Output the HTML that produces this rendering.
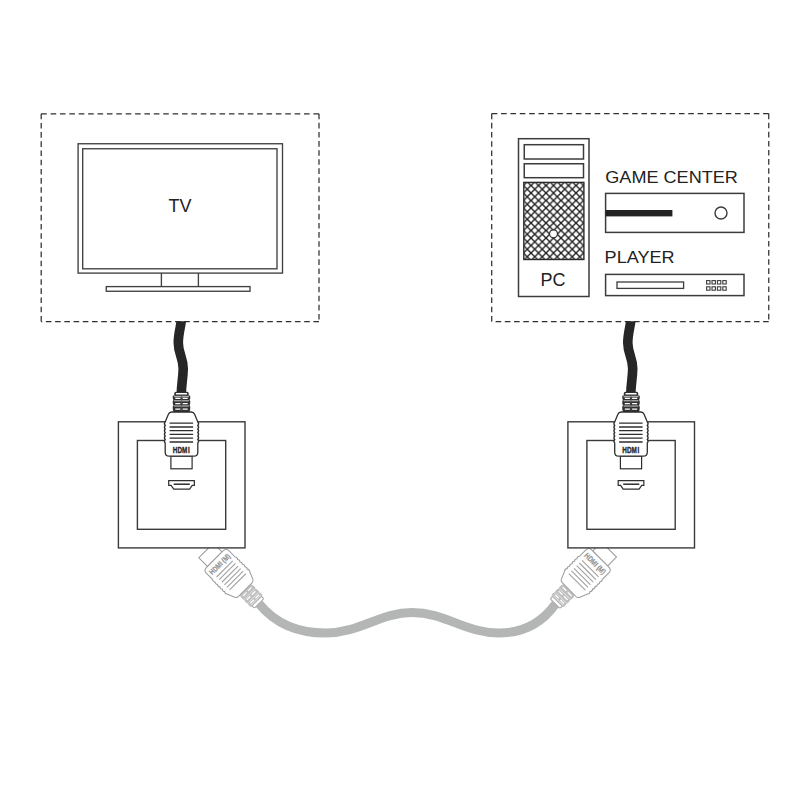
<!DOCTYPE html>
<html><head><meta charset="utf-8">
<style>
html,body{margin:0;padding:0;background:#fff;width:800px;height:800px;overflow:hidden}
svg{display:block}
text{font-family:"Liberation Sans",sans-serif}
</style></head>
<body>
<svg width="800" height="800" viewBox="0 0 800 800">
<defs>
  <pattern id="grid" patternUnits="userSpaceOnUse" width="7.5" height="7.5" x="6" y="5.5">
    <path d="M-1,-1 L8.5,8.5 M8.5,-1 L-1,8.5" stroke="#1e1e1e" stroke-width="1.35" fill="none"/>
  </pattern>
  <!-- canonical plug: origin = body top centre (cable side), tip downward -->
  <path id="body" d="M-9.8,0 L9.8,0 Q12.2,0 13.1,2.2 L16.3,10 Q17.9,11.75 16.3,13.50 Q17.9,15.25 16.3,17.00 Q17.9,18.75 16.3,20.50 Q17.9,22.25 16.3,24.00 Q17.9,25.75 16.3,27.50 Q17.9,29.25 16.3,31.00 L16.3,40.2 Q16.3,44.2 12.3,44.2 L-12.3,44.2 Q-16.3,44.2 -16.3,40.2 L-16.3,31 Q-17.9,29.25 -16.3,27.50 Q-17.9,25.75 -16.3,24.00 Q-17.9,22.25 -16.3,20.50 Q-17.9,18.75 -16.3,17.00 Q-17.9,15.25 -16.3,13.50 Q-17.9,11.75 -16.3,10.00 L-13.1,2.2 Q-12.2,0 -9.8,0 Z"/>
  <g id="relief">
    <path d="M-7.2,-16.2 V-18.6 Q-7.2,-20.2 -5.6,-20.2 H5.6 Q7.2,-20.2 7.2,-18.6 V-16.2 Z" fill="#303030"/>
    <rect x="-5.6" y="-19" width="11.2" height="1.5" rx="0.5" fill="#fff"/>
    <path d="M-8,-16.6 H8 Q8.8,-16.6 8.8,-15.2 Q8.8,-12.2 8,-11.9 Q8.8,-11.4 8.8,-10 Q8.8,-7 8,-6.6 Q8.8,-6.1 8.8,-4.7 Q8.8,-1.2 8,-0.6 L8,0 H-8 V-0.6 Q-8.8,-1.2 -8.8,-4.7 Q-8.8,-6.1 -8,-6.6 Q-8.8,-7 -8.8,-10 Q-8.8,-11.4 -8,-11.9 Q-8.8,-12.2 -8.8,-15.2 Q-8.8,-16.6 -8,-16.6 Z" fill="#303030"/>
    <path d="M-7.4,-15.3 H7.4 M-7.4,-11.2 H7.4 M-7.4,-6 H7.4" stroke="#e2e2e2" stroke-width="0.9"/>
    <path d="M0,-16 V0" stroke="#555" stroke-width="0.7"/>
    <path d="M-6.2,-13.55 H-1.1 M1.1,-13.55 H6.2 M-6.2,-8.35 H-1.1 M1.1,-8.35 H6.2 M-6.2,-2.85 H-1.1 M1.1,-2.85 H6.2" stroke="#fff" stroke-width="1.3"/>
  </g>
  <g id="vplug">
    <use href="#relief"/>
    <rect x="-10.6" y="44.2" width="21.2" height="12.6" fill="#fff" stroke="#2e2e2e" stroke-width="1.2"/>
    <use href="#body" fill="#fff" stroke="#2e2e2e" stroke-width="1.3"/>
    <path d="M-11.9,11.2 H11.6 M-11.9,15 H11.6 M-11.9,18.6 H11.6 M-11.9,22.4 H11.6 M-11.9,26.2 H11.6 M-11.9,30 H11.6" stroke="#2e2e2e" stroke-width="1.3"/>
    <g transform="translate(0,40.6) scale(0.74,1)"><text x="-11.9 -5.4 0.6 8.9" y="0" font-size="8.6" font-weight="bold" fill="#2a2a2a" stroke="#2a2a2a" stroke-width="0.35">HDMI</text></g>
  </g>
  <g id="aplug">
    <path d="M-6.9,-16.4 V-18.4 Q-6.9,-20 -5.3,-20 H5.3 Q6.9,-20 6.9,-18.4 V-16.4 Z" fill="#fff" stroke="#a6a6a6" stroke-width="1.1"/>
    <path d="M-8,-16.6 H8 Q8.8,-16.6 8.8,-15.2 Q8.8,-12.2 8,-11.9 Q8.8,-11.4 8.8,-10 Q8.8,-7 8,-6.6 Q8.8,-6.1 8.8,-4.7 Q8.8,-1.2 8,-0.6 L8,0 H-8 V-0.6 Q-8.8,-1.2 -8.8,-4.7 Q-8.8,-6.1 -8,-6.6 Q-8.8,-7 -8.8,-10 Q-8.8,-11.4 -8,-11.9 Q-8.8,-12.2 -8.8,-15.2 Q-8.8,-16.6 -8,-16.6 Z" fill="#c0c0c0"/>
    <path d="M-7.2,-15.4 H7.2 M-7.2,-11.5 H7.2 M-7.2,-6.2 H7.2" stroke="#e8e8e8" stroke-width="0.8"/>
    <path d="M-6.2,-13.55 H-1.1 M1.1,-13.55 H6.2 M-6.2,-8.35 H-1.1 M1.1,-8.35 H6.2 M-6.2,-2.85 H-1.1 M1.1,-2.85 H6.2" stroke="#fff" stroke-width="1.3"/>
    <rect x="-10.6" y="44.2" width="21.2" height="12.6" fill="#fff" stroke="#9c9c9c" stroke-width="1.05"/>
    <use href="#body" fill="#fff" stroke="#9c9c9c" stroke-width="1.05"/>
    <path d="M-11.9,11.2 H11.6 M-11.9,15 H11.6 M-11.9,18.6 H11.6 M-11.9,22.4 H11.6 M-11.9,26.2 H11.6 M-11.9,30 H11.6" stroke="#a2a2a2" stroke-width="1.15"/>
    <g transform="translate(0,37.2) rotate(180)">
      <text x="0" y="2.9" font-size="7.8" font-weight="bold" fill="#909090" stroke="#909090" stroke-width="0.2" text-anchor="middle" textLength="27" lengthAdjust="spacingAndGlyphs">HDMI (M)</text>
    </g>
  </g>
  <g id="socket">
    <rect x="118.4" y="421.8" width="126.6" height="126.1" fill="#fff" stroke="#3a3a3a" stroke-width="1.4"/>
    <rect x="137.4" y="440.5" width="88.3" height="88.8" fill="#fff" stroke="#3a3a3a" stroke-width="1.4"/>
    <path d="M168.7,480.65 H194.35 V485.4 H192.2 L189.6,489.2 H173.7 L171.1,485.4 H168.7 Z" fill="#fff" stroke="#2e2e2e" stroke-width="1.2"/>
    <path d="M173.7,484.2 H189.8" stroke="#1e1e1e" stroke-width="1.4"/>
  </g>
</defs>

<!-- dashed boxes -->
<g fill="none" stroke="#303030" stroke-width="1.25">
<path d="M41.2,113.75 H319" stroke-dasharray="5.6 3.786"/>
<path d="M319,113.75 V321.5" stroke-dasharray="5.6 3.500"/>
<path d="M319,321.5 H41.2" stroke-dasharray="5.6 3.625"/>
<path d="M41.2,321.5 V113.75" stroke-dasharray="5.6 3.589"/>
<path d="M491.7,113.6 H768.75" stroke-dasharray="5.6 3.760"/>
<path d="M768.75,113.6 V321.5" stroke-dasharray="5.6 3.500"/>
<path d="M768.75,321.5 H491.7" stroke-dasharray="5.6 3.625"/>
<path d="M491.7,321.5 V113.6" stroke-dasharray="5.6 3.595"/>
</g>

<!-- TV -->
<g fill="none" stroke="#404040" stroke-width="1.35">
  <rect x="78.1" y="143.75" width="204.4" height="129.35"/>
  <rect x="82.7" y="148.75" width="194.3" height="120.05"/>
  <path d="M161.4,273.1 V286.6 M198.4,273.1 V286.6"/>
  <rect x="106.25" y="286.6" width="143.75" height="4.65"/>
</g>
<text x="180" y="212.4" font-size="18" fill="#222" text-anchor="middle">TV</text>

<!-- PC -->
<g fill="none" stroke="#3c3c3c" stroke-width="1.5">
  <rect x="518.5" y="138.7" width="70.5" height="157.8"/>
  <rect x="524.25" y="144.7" width="59.25" height="14.3"/>
  <rect x="524.25" y="163.75" width="59.25" height="13.95"/>
</g>
<rect x="523.8" y="182.4" width="60.1" height="77.1" fill="url(#grid)" stroke="#2a2a2a" stroke-width="1.4"/>
<circle cx="553.5" cy="233.8" r="4" fill="#fff" stroke="#2a2a2a" stroke-width="1.2"/>
<text x="540.6" y="285.7" font-size="17.8" fill="#222" textLength="25" lengthAdjust="spacingAndGlyphs">PC</text>

<!-- Game center -->
<text x="605.3" y="182.6" font-size="16.8" fill="#222" textLength="132.6" lengthAdjust="spacingAndGlyphs">GAME CENTER</text>
<rect x="605.6" y="193.4" width="138.4" height="39" fill="none" stroke="#3c3c3c" stroke-width="1.5"/>
<rect x="605.6" y="210" width="66.8" height="6.4" fill="#222"/>
<circle cx="721" cy="213" r="6" fill="none" stroke="#3c3c3c" stroke-width="1.4"/>

<!-- Player -->
<text x="604.6" y="263.2" font-size="16.8" fill="#222" textLength="70" lengthAdjust="spacingAndGlyphs">PLAYER</text>
<rect x="605.6" y="274.4" width="138.4" height="21.2" fill="none" stroke="#3c3c3c" stroke-width="1.5"/>
<rect x="617" y="282" width="66.6" height="6.4" fill="none" stroke="#3c3c3c" stroke-width="1.3"/>
<g fill="none" stroke="#3c3c3c" stroke-width="1.1">
  <rect x="706.6" y="280.6" width="3.4" height="3.4"/><rect x="712" y="280.6" width="3.4" height="3.4"/><rect x="717.4" y="280.6" width="3.4" height="3.4"/><rect x="722.8" y="280.6" width="3.4" height="3.4"/>
  <rect x="706.6" y="286.8" width="3.4" height="3.4"/><rect x="712" y="286.8" width="3.4" height="3.4"/><rect x="717.4" y="286.8" width="3.4" height="3.4"/><rect x="722.8" y="286.8" width="3.4" height="3.4"/>
</g>

<!-- black cables -->
<clipPath id="bclip"><rect x="100" y="321.2" width="120" height="80"/></clipPath>
<path id="bc" clip-path="url(#bclip)" d="M181.8,314 C181.8,325 178.2,332 178.3,343 C178.4,354 183.4,358 183.2,369 C183,379 181.3,385 181.3,394" fill="none" stroke="#262626" stroke-width="9.6"/>
<use href="#bc" transform="translate(449.5,0)"/>

<!-- gray cable -->
<path d="M259.2,603.8 C274,622 296,633 326,633 C360,633 380,612.5 412,612.5 C445,612.5 465,633 499,633 C526,633 544,620 555.5,604" fill="none" stroke="#b4b6b5" stroke-width="9"/>

<!-- angled plugs -->
<use href="#aplug" transform="translate(245.3,589.7) rotate(135) scale(0.976)"/>
<use href="#aplug" transform="translate(569.1,589.6) rotate(-135) scale(0.995)"/>

<!-- sockets -->
<use href="#socket"/>
<use href="#socket" transform="translate(449.5,0)"/>

<!-- vertical plugs -->
<use href="#vplug" transform="translate(181.5,412)"/>
<use href="#vplug" transform="translate(631,412)"/>
</svg>
</body></html>
